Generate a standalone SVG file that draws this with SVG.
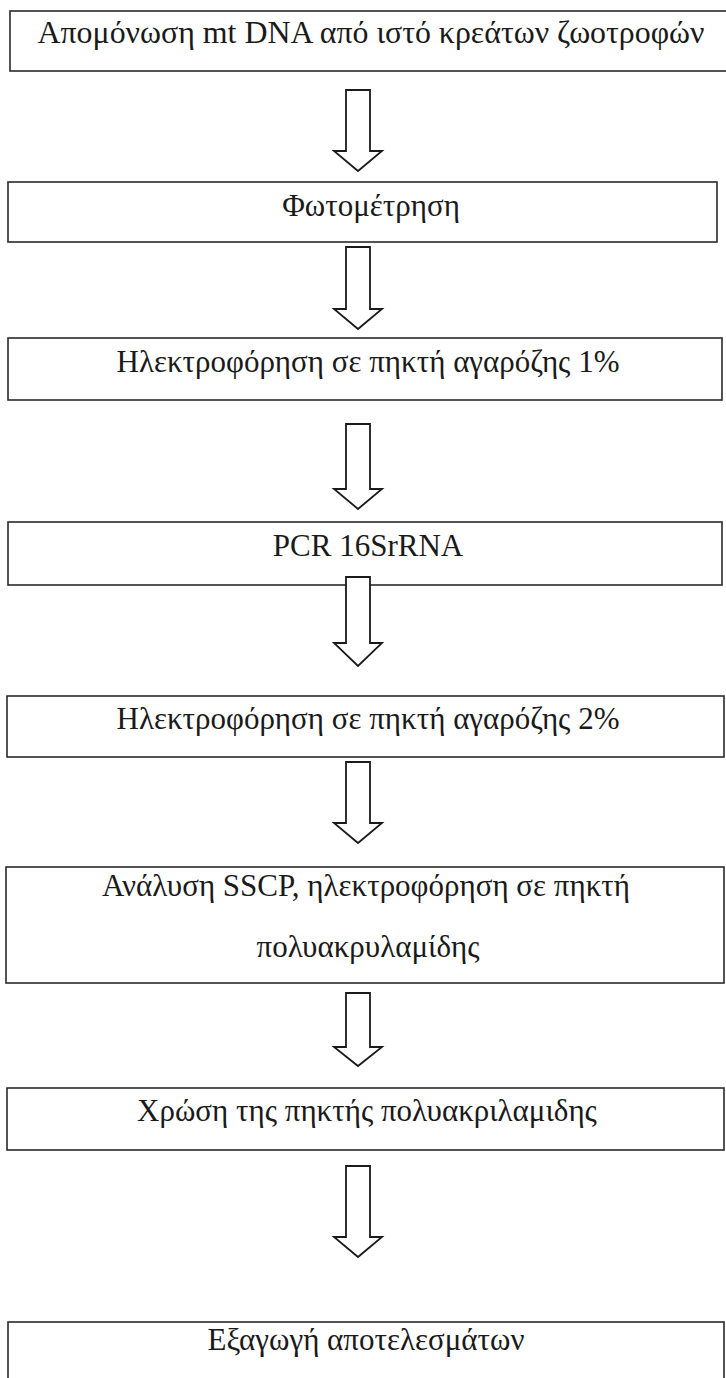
<svg xmlns="http://www.w3.org/2000/svg" width="726" height="1378" viewBox="0 0 726 1378">
<style>
.box{fill:#fff;stroke:#2a2a2a;stroke-width:1.6}
.arr{fill:#fff;stroke:#1a1a1a;stroke-width:1.8;stroke-linejoin:miter}
.t{font-family:"Liberation Serif","Times New Roman",serif;font-size:31px;fill:#1a1a1a;text-anchor:middle}
</style>
<rect width="726" height="1378" fill="#fff"/>
<g id="n1"><rect class="box" x="10" y="11" width="730" height="60"/><text class="t" x="371" y="43" textLength="667" lengthAdjust="spacingAndGlyphs">Απομόνωση mt DNA από ιστό κρεάτων ζωοτροφών</text></g>
<g id="n2"><rect class="box" x="8" y="182" width="709" height="60"/><text class="t" x="371" y="216">Φωτομέτρηση</text></g>
<g id="n3"><rect class="box" x="8" y="338" width="714" height="62"/><text class="t" x="368" y="372">Ηλεκτροφόρηση σε πηκτή αγαρόζης 1%</text></g>
<g id="n4"><rect class="box" x="8" y="522" width="714" height="63"/><text class="t" x="368" y="556">PCR 16SrRNA</text></g>
<g id="n5"><rect class="box" x="7" y="696" width="717" height="61"/><text class="t" x="368" y="729">Ηλεκτροφόρηση σε πηκτή αγαρόζης 2%</text></g>
<g id="n6"><rect class="box" x="6" y="867" width="718" height="116"/><text class="t" x="366" y="896">Ανάλυση SSCP, ηλεκτροφόρηση σε πηκτή</text><text class="t" x="368" y="957">πολυακρυλαμίδης</text></g>
<g id="n7"><rect class="box" x="7" y="1088" width="717" height="62"/><text class="t" x="367" y="1121">Χρώση της πηκτής πολυακριλαμιδης</text></g>
<g id="n8"><rect class="box" x="8" y="1322" width="716" height="70"/><text class="t" x="366" y="1350">Εξαγωγή αποτελεσμάτων</text></g>
<g id="connectors">
<polygon class="arr" points="346,90 370,90 370,151 382,151 358,171 334,151 346,151"/>
<polygon class="arr" points="346,247 370,247 370,309 382,309 358,329 334,309 346,309"/>
<polygon class="arr" points="346,424 370,424 370,489 382,489 358,509 334,489 346,489"/>
<polygon class="arr" points="346,577 370,577 370,643 382,643 358,666 334,643 346,643"/>
<polygon class="arr" points="346,762 370,762 370,823 382,823 358,843 334,823 346,823"/>
<polygon class="arr" points="346,993 370,993 370,1047 382,1047 358,1066 334,1047 346,1047"/>
<polygon class="arr" points="346,1166 370,1166 370,1237 382,1237 358,1257 334,1237 346,1237"/>
</g>
</svg>
